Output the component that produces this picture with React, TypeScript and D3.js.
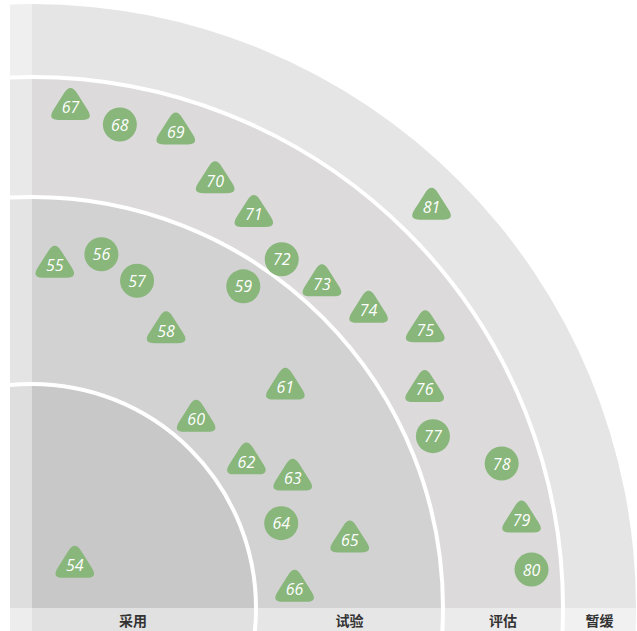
import React from "react";
import * as d3 from "d3";

// rings, inner to outer
const rings = ["采用", "试验", "评估", "暂缓"];

// blips: id, shape, distance in ring units (0-4), angle in degrees (0 = bottom axis)
const blipIds = [
  54, 55, 56, 57, 58, 59, 60, 61, 62, 63, 64, 65, 66, 67, 68, 69, 70, 71, 72, 73,
  74, 75, 76, 77, 78, 79, 80, 81,
];
const blipShapes = [
  "tri", "tri", "circle", "circle", "tri", "circle", "tri", "tri", "tri", "tri",
  "circle", "tri", "tri", "tri", "circle", "tri", "tri", "tri", "circle", "tri",
  "tri", "tri", "tri", "circle", "circle", "tri", "circle", "tri",
];
const blipDistance = [
  0.27, 1.64, 1.73, 1.64, 1.45, 1.86, 1.14, 1.6, 1.19, 1.36, 1.21, 1.54, 1.21,
  2.76, 2.67, 2.72, 2.45, 2.34, 2.15, 2.2, 2.32, 2.59, 2.32, 2.21, 2.67, 2.72,
  2.75, 3.48,
];
const blipAngle = [
  45, 86.2, 78.9, 72.2, 64.2, 56.7, 49, 41.1, 34.3, 26.5, 18.8, 12.1, 4.1, 85.6,
  79.7, 73.2, 66.8, 60.6, 54.4, 48.2, 41.5, 35.3, 29.1, 23.2, 17.1, 10.2, 4.4,
  45.1,
];

const W = 637;
const H = 631;
const cx = 32;
const cy = 608;
const clipLeft = 10;
const ringFills = ["#c8c8c8", "#d2d2d2", "#dcdadb", "#e5e5e5"];
const green = "#88b67b";

// rounded triangle centred on the label
function triPath() {
  const pts: [number, number][] = [
    [0, -24.3],
    [23.4, 12.6],
    [-23.4, 12.6],
  ];
  const d = 11.7;
  const p = d3.path();
  const n = pts.length;
  for (let i = 0; i < n; i++) {
    const prev = pts[(i + n - 1) % n];
    const cur = pts[i];
    const next = pts[(i + 1) % n];
    const toPrev = [prev[0] - cur[0], prev[1] - cur[1]];
    const toNext = [next[0] - cur[0], next[1] - cur[1]];
    const lp = Math.hypot(toPrev[0], toPrev[1]);
    const ln = Math.hypot(toNext[0], toNext[1]);
    const a = [cur[0] + (toPrev[0] / lp) * d, cur[1] + (toPrev[1] / lp) * d];
    const b = [cur[0] + (toNext[0] / ln) * d, cur[1] + (toNext[1] / ln) * d];
    if (i === 0) p.moveTo(a[0], a[1]);
    else p.lineTo(a[0], a[1]);
    p.quadraticCurveTo(cur[0], cur[1], b[0], b[1]);
  }
  p.closePath();
  return p.toString();
}

export default function App() {
  const r = d3.scaleLinear().domain([0, 1, 2, 3, 4]).range([0, 224, 411, 531, 604]);
  const theta = d3.scaleLinear().domain([0, 90]).range([0, Math.PI / 2]);

  const blips = blipIds.map((id, i) => {
    const rad = r(blipDistance[i]);
    const t = theta(blipAngle[i]);
    return { id, shape: blipShapes[i], x: cx + rad * Math.cos(t), y: cy - rad * Math.sin(t) };
  });
  const tri = triPath();

  return (
    <svg
      width={W}
      height={H}
      style={{ position: "absolute", left: 0, top: 0 }}
    >
      <defs>
        <clipPath id="quad">
          <rect x={clipLeft} y={0} width={W - clipLeft} height={H} />
        </clipPath>
      </defs>
      <g clipPath="url(#quad)">
        {rings
          .map((_, i) => i)
          .reverse()
          .map(i => (
            <circle key={i} cx={cx} cy={cy} r={r(i + 1)} fill={ringFills[i]} />
          ))}
        {[1, 2, 3].map(i => (
          <circle key={"s" + i} cx={cx} cy={cy} r={r(i)} fill="none" stroke="#fff" strokeWidth={4} />
        ))}
        <rect x={clipLeft} y={0} width={cx - clipLeft} height={H} fill="#fff" opacity={0.4} />
        <rect x={clipLeft} y={cy} width={W - clipLeft} height={H - cy} fill="#fff" opacity={0.45} />
      </g>
      {rings.map((name, i) => {
        const x0 = i === 0 ? clipLeft : cx + r(i);
        const x1 = cx + r(i + 1);
        return (
          <text
            key={name}
            x={(x0 + x1) / 2}
            y={620}
            textAnchor="middle"
            dominantBaseline="central"
            fontFamily="'Noto Sans CJK SC', sans-serif"
            fontSize={14}
            fontWeight="bold"
            fill="#333"
          >
            {name}
          </text>
        );
      })}
      {blips.map(b => (
        <g key={b.id} transform={`translate(${b.x},${b.y})`}>
          {b.shape === "tri" ? (
            <path d={tri} fill={green} />
          ) : (
            <circle r={17} fill={green} />
          )}
          <text
            textAnchor="middle"
            dominantBaseline="central"
            fontFamily="'Open Sans', sans-serif"
            fontStyle="italic"
            fontSize={16}
            fontWeight={500}
            fill="#fff"
          >
            {b.id}
          </text>
        </g>
      ))}
    </svg>
  );
}
